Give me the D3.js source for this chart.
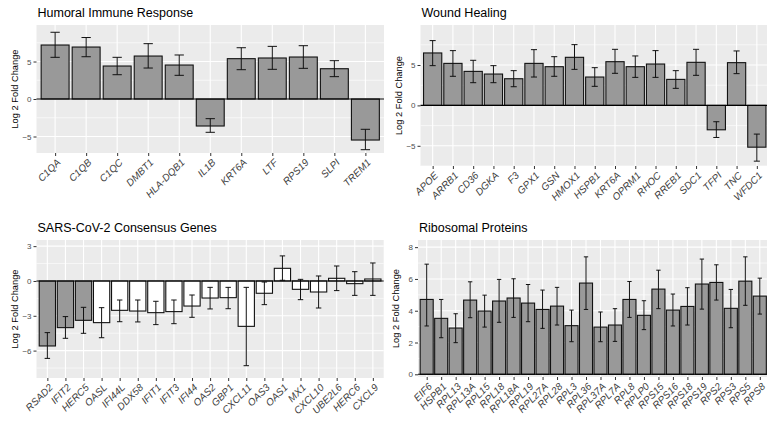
<!DOCTYPE html>
<html>
<head>
<meta charset="utf-8">
<script src="https://cdn.jsdelivr.net/npm/d3@7"></script>
<style>
  html, body { margin: 0; padding: 0; background: #fff; }
  svg { display: block; font-family: "Liberation Sans", Arial, Helvetica, sans-serif; }
</style>
</head>
<body>
<svg id="chart" width="767" height="422"></svg>
<script>
// ---- Humoral Immune Response ----
const humoralGenes = ["C1QA","C1QB","C1QC","DMBT1","HLA-DQB1","IL1B","KRT6A","LTF","RPS19","SLPI","TREM1"];
const humoralLfc   = [7.2, 6.93, 4.4, 5.73, 4.53, -3.6, 5.38, 5.47, 5.6, 4.04, -5.47];
const humoralLo    = [5.56, 5.64, 3.24, 4.13, 3.16, -4.44, 3.91, 3.96, 4.09, 2.98, -6.76];
const humoralHi    = [8.9, 8.2, 5.56, 7.38, 5.87, -2.62, 6.84, 7.02, 7.11, 5.11, -4.04];
const humoralTicks = [-5, 0, 5];
const humoralMinor = [-7.5, -2.5, 2.5, 7.5];

// ---- Wound Healing ----
const woundGenes = ["APOE","ARRB1","CD36","DGKA","F3","GPX1","GSN","HMOX1","HSPB1","KRT6A","OPRM1","RHOC","RREB1","SDC1","TFPI","TNC","WFDC1"];
const woundLfc   = [6.49, 5.2, 4.21, 3.88, 3.3, 5.2, 4.79, 5.95, 3.51, 5.41, 4.79, 5.12, 3.22, 5.33, -3.02, 5.29, -5.17];
const woundLo    = [4.92, 3.6, 2.81, 2.81, 2.31, 3.51, 3.6, 4.46, 2.36, 3.97, 3.47, 3.47, 2.11, 3.72, -3.97, 3.93, -6.9];
const woundHi    = [8.02, 6.78, 5.58, 4.92, 4.3, 6.9, 6.03, 7.52, 4.67, 6.94, 6.12, 6.78, 4.3, 6.94, -2.02, 6.74, -3.55];
const woundTicks = [-5, 0, 5];
const woundMinor = [-7.5, -2.5, 2.5, 7.5];

// ---- SARS-CoV-2 Consensus Genes ----
const sarsGenes = ["RSAD2","IFIT2","HERC5","OASL","IFI44L","DDX58","IFIT1","IFIT3","IFI44","OAS2","GBP1","CXCL11","OAS3","OAS1","MX1","CXCL10","UBE2L6","HERC6","CXCL9"];
const sarsLfc   = [-5.6, -4.02, -3.39, -3.59, -2.53, -2.59, -2.73, -2.64, -2.16, -1.47, -1.44, -3.91, -1.06, 1.09, -0.72, -0.95, 0.23, -0.23, 0.17];
const sarsLo    = [-6.67, -4.94, -4.51, -4.89, -3.51, -3.53, -3.76, -3.68, -3.13, -2.41, -2.39, -7.3, -2.04, 0.06, -1.61, -2.33, -0.83, -1.24, -1.24];
const sarsHi    = [-4.45, -3.07, -2.27, -2.3, -1.64, -1.64, -1.75, -1.64, -1.21, -0.55, -0.55, -0.55, -0.09, 2.16, 0.14, 0.43, 1.29, 0.8, 1.55];
const sarsSignificant = [true, true, true, false, false, false, false, false, false, false, false, false, false, false, false, false, false, false, false];
const sarsTicks = [-6, -3, 0, 3];
const sarsMinor = [-7.5, -4.5, -1.5, 1.5];

// ---- Ribosomal Proteins ----
const riboGenes = ["EIF6","HSPB1","RPL13","RPL13A","RPL15","RPL18","RPL18A","RPL19","RPL27A","RPL28","RPL3","RPL36","RPL37A","RPL7A","RPL8","RPLP0","RPS15","RPS16","RPS18","RPS19","RPS2","RPS3","RPS5","RPS8"];
const riboLfc   = [4.71, 3.52, 2.91, 4.67, 3.98, 4.61, 4.8, 4.48, 4.08, 4.29, 3.06, 5.74, 2.97, 3.1, 4.71, 3.71, 5.36, 4.04, 4.27, 5.68, 5.78, 4.15, 5.86, 4.92];
const riboLo    = [3.04, 2.3, 1.99, 3.56, 2.97, 3.27, 3.58, 3.31, 2.89, 3.1, 2.05, 4.08, 2.05, 2.07, 3.58, 2.81, 4.13, 3.04, 3.1, 4.1, 4.67, 2.93, 4.34, 3.79];
const riboHi    = [6.93, 4.71, 3.81, 5.82, 4.98, 5.97, 6.01, 5.65, 5.3, 5.47, 4.04, 7.39, 3.92, 4.13, 5.84, 4.63, 6.55, 5.05, 5.45, 7.25, 6.89, 5.34, 7.39, 6.05];
const riboTicks = [0, 2, 4, 6, 8];
const riboMinor = [1, 3, 5, 7];

const yTitle = "Log 2 Fold Change";

const panels = [
  { title: "Humoral Immune Response", genes: humoralGenes, lfc: humoralLfc, lo: humoralLo, hi: humoralHi,
    ticks: humoralTicks, minor: humoralMinor, yDomain: [-7.2, 9.87],
    box: { left: 36.5, right: 384, top: 25, bottom: 153 } },
  { title: "Wound Healing", genes: woundGenes, lfc: woundLfc, lo: woundLo, hi: woundHi,
    ticks: woundTicks, minor: woundMinor, yDomain: [-7.5, 9.95],
    box: { left: 420.5, right: 769, top: 25, bottom: 166 } },
  { title: "SARS-CoV-2 Consensus Genes", genes: sarsGenes, lfc: sarsLfc, lo: sarsLo, hi: sarsHi,
    sig: sarsSignificant, ticks: sarsTicks, minor: sarsMinor, yDomain: [-8.36, 3.53],
    box: { left: 36.5, right: 383.7, top: 240, bottom: 378 } },
  { title: "Ribosomal Proteins", genes: riboGenes, lfc: riboLfc, lo: riboLo, hi: riboHi,
    ticks: riboTicks, minor: riboMinor, yDomain: [-0.17, 8.45],
    box: { left: 418, right: 768.5, top: 240, bottom: 377 } }
];

const svg = d3.select("#chart");
svg.append("rect").attr("width", 767).attr("height", 422).attr("fill", "#fff");

const BAR_FILL = "#999999";
const PANEL_BG = "#EBEBEB";
const TICK_COL = "#333333";
const TEXT_COL = "#4D4D4D";

panels.forEach(p => {
  const b = p.box;
  const g = svg.append("g");

  const x = d3.scalePoint().domain(p.genes).range([b.left, b.right]).padding(0.6);
  const y = d3.scaleLinear().domain(p.yDomain).range([b.bottom, b.top]);
  const step = x.step();
  const bw = step * 0.9;
  const capW = step * 0.3;

  // panel background
  g.append("rect")
    .attr("x", b.left).attr("y", b.top)
    .attr("width", b.right - b.left).attr("height", b.bottom - b.top)
    .attr("fill", PANEL_BG);

  // minor horizontal grid
  g.selectAll(".minor").data(p.minor.filter(v => v >= p.yDomain[0] && v <= p.yDomain[1]))
    .join("line")
    .attr("x1", b.left).attr("x2", b.right)
    .attr("y1", d => y(d)).attr("y2", d => y(d))
    .attr("stroke", "#fff").attr("stroke-width", 0.6);

  // major horizontal grid
  g.selectAll(".major").data(p.ticks)
    .join("line")
    .attr("x1", b.left).attr("x2", b.right)
    .attr("y1", d => y(d)).attr("y2", d => y(d))
    .attr("stroke", "#fff").attr("stroke-width", 1.1);

  // vertical grid at each gene
  g.selectAll(".vgrid").data(p.genes)
    .join("line")
    .attr("x1", d => x(d)).attr("x2", d => x(d))
    .attr("y1", b.top).attr("y2", b.bottom)
    .attr("stroke", "#fff").attr("stroke-width", 1.1);

  const rows = p.genes.map((gene, i) => ({ gene, v: p.lfc[i], lo: p.lo[i], hi: p.hi[i],
    fill: p.sig ? (p.sig[i] ? BAR_FILL : "#fff") : BAR_FILL }));

  // bars
  g.selectAll(".bar").data(rows)
    .join("rect")
    .attr("x", d => x(d.gene) - bw / 2)
    .attr("width", bw)
    .attr("y", d => y(Math.max(0, d.v)))
    .attr("height", d => Math.abs(y(d.v) - y(0)))
    .attr("fill", d => d.fill)
    .attr("stroke", "#111").attr("stroke-width", 1.1);

  // error bars
  const eb = g.selectAll(".eb").data(rows).join("g").attr("stroke", "#111").attr("stroke-width", 1);
  eb.append("line")
    .attr("x1", d => x(d.gene)).attr("x2", d => x(d.gene))
    .attr("y1", d => y(d.lo)).attr("y2", d => y(d.hi));
  eb.append("line")
    .attr("x1", d => x(d.gene) - capW / 2).attr("x2", d => x(d.gene) + capW / 2)
    .attr("y1", d => y(d.lo)).attr("y2", d => y(d.lo));
  eb.append("line")
    .attr("x1", d => x(d.gene) - capW / 2).attr("x2", d => x(d.gene) + capW / 2)
    .attr("y1", d => y(d.hi)).attr("y2", d => y(d.hi));

  // zero reference line
  g.append("line")
    .attr("x1", b.left).attr("x2", b.right)
    .attr("y1", y(0)).attr("y2", y(0))
    .attr("stroke", "#000").attr("stroke-width", 1.1);

  // y axis
  const yAxis = g.append("g")
    .attr("transform", `translate(${b.left},0)`)
    .call(d3.axisLeft(y).tickValues(p.ticks).tickSize(3).tickPadding(2).tickFormat(d3.format("d")));
  yAxis.select(".domain").remove();
  yAxis.selectAll(".tick line").attr("stroke", TICK_COL);
  yAxis.selectAll(".tick text").attr("fill", TEXT_COL).style("font-size", "8px");

  // x axis with rotated gene labels
  const xAxis = g.append("g")
    .attr("transform", `translate(0,${b.bottom})`)
    .call(d3.axisBottom(x).tickSize(3).tickPadding(2));
  xAxis.select(".domain").remove();
  xAxis.selectAll(".tick line").attr("stroke", TICK_COL);
  xAxis.selectAll(".tick text")
    .attr("fill", "#404040")
    .style("font-size", "10px")
    .style("font-style", "italic")
    .attr("text-anchor", "end")
    .attr("dy", null)
    .attr("y", null)
    .attr("transform", "translate(0.5,5) rotate(-45)")
    .attr("dominant-baseline", "hanging");

  // panel title
  g.append("text")
    .attr("x", b.left + 1).attr("y", b.top - 8)
    .attr("fill", "#000")
    .style("font-size", "12.5px")
    .text(p.title);

  // y axis title
  g.append("text")
    .attr("transform", `translate(${b.left - 19},${(b.top + b.bottom) / 2}) rotate(-90)`)
    .attr("text-anchor", "middle")
    .attr("fill", "#000")
    .style("font-size", "9.3px")
    .text(yTitle);
});
</script>
</body>
</html>
